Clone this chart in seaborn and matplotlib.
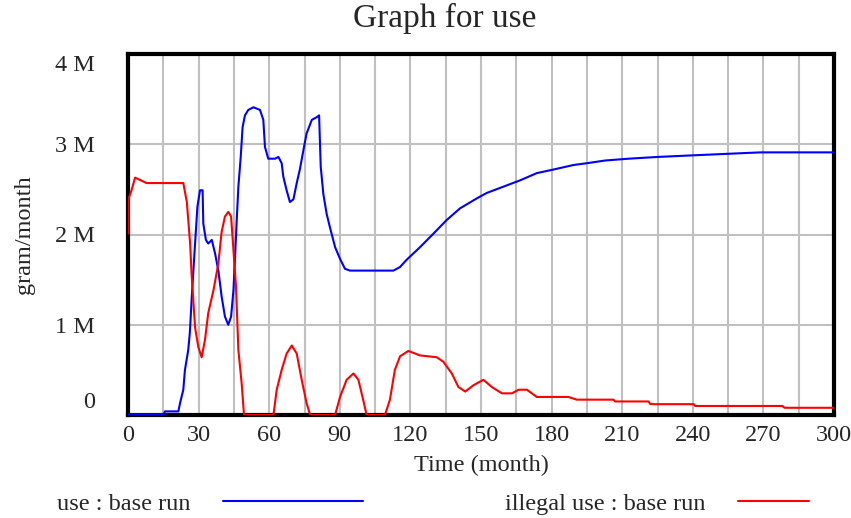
import numpy as np
import pandas as pd
import matplotlib
matplotlib.use("Agg")
import matplotlib.pyplot as plt
import matplotlib.transforms as mtransforms
from matplotlib.lines import Line2D
import seaborn as sns

# ---- data ----
use_t = [0, 15.2, 15.7, 21.4, 22.1, 23.5, 24.2, 25.6, 26.3, 27.1, 28.5, 29.5, 30.6, 31.7, 32.0, 33.1,
         34.1, 35.6, 37.0, 38.4, 39.8, 41.2, 42.6, 43.8, 44.8, 45.5, 46.2, 46.9, 47.9, 48.7,
         49.7, 51.1, 53.3, 56.1, 57.5, 58.2, 59.6, 62.5, 63.9, 65.3, 66.0, 67.4, 68.8, 70.3,
         71.7, 73.1, 74.5, 75.9, 78.1, 80.2, 81.2, 81.9, 83.0, 84.4, 85.8, 88.0, 90.1, 92.2, 94.3,
         112.8, 115.6, 118.4, 124.1, 129.8, 135.4, 141.1, 148.2, 152.4, 159.5, 166.6, 173.7,
         180.8, 189.3, 195, 202.8, 212.7, 225.5, 242.5, 268.7, 300]
use_v = [0.01, 0.01, 0.04, 0.04, 0.13, 0.28, 0.5, 0.72, 0.92, 1.31, 1.9, 2.31, 2.49, 2.49, 2.12, 1.94,
         1.9, 1.94, 1.79, 1.6, 1.31, 1.09, 1.0, 1.09, 1.38, 1.75, 2.16, 2.53, 2.86, 3.19,
         3.32, 3.38, 3.41, 3.38, 3.27, 2.97, 2.84, 2.84, 2.86, 2.79, 2.64, 2.49, 2.36, 2.39,
         2.57, 2.73, 2.93, 3.12, 3.27, 3.30, 3.32, 2.75, 2.45, 2.23, 2.08, 1.86, 1.73, 1.62, 1.6,
         1.6, 1.64, 1.72, 1.86, 2.01, 2.16, 2.29, 2.40, 2.46, 2.53, 2.60, 2.68,
         2.72, 2.77, 2.79, 2.82, 2.84, 2.86, 2.88, 2.91, 2.91]

ill_t = [0, 0.3, 1.5, 3, 7.9, 23.5, 25, 26.4, 27, 28.5, 29.9, 31.3, 32.7, 34.1, 36.3, 38.4, 39.8,
         41.2, 42.6, 43.8, 44.8, 45.9, 46.9, 48.3, 49.3, 61.8, 63.2, 65.3, 67.4, 69.6, 71.7,
         73.8, 75.9, 77.4, 88, 90.1, 92.9, 95.8, 97.9, 100.0, 101.4, 109.2, 111.3, 113.4, 115.6,
         119.1, 124.1, 131.2, 134, 137.6, 140.4, 143.3, 146.8, 151, 154.6, 158.9, 163.1, 166,
         169.5, 173.7, 187.1, 190.7, 206.3, 207, 221.2, 222, 240.4, 241, 278, 279, 300]
ill_v = [2.01, 2.4, 2.49, 2.63, 2.57, 2.57, 2.36, 1.9, 1.57, 0.97, 0.75, 0.64, 0.83, 1.13, 1.38,
         1.68, 2.03, 2.2, 2.25, 2.2, 1.83, 1.42, 0.72, 0.35, 0.0, 0.0, 0.28, 0.5, 0.68, 0.77,
         0.68, 0.39, 0.13, 0.0, 0.0, 0.2, 0.39, 0.46, 0.39, 0.16, 0.0, 0.0, 0.17, 0.5, 0.65,
         0.71, 0.66, 0.64, 0.59, 0.46, 0.31, 0.26, 0.33, 0.39, 0.31, 0.24, 0.24, 0.28,
         0.28, 0.2, 0.2, 0.17, 0.17, 0.15, 0.15, 0.12, 0.12, 0.1, 0.1, 0.08, 0.08]

y_ticks = [0, 1, 2, 3, 4]
y_labels = ["0", "1 M", "2 M", "3 M", "4 M"]
x_ticks = list(range(0, 301, 30))

df_use = pd.DataFrame({"t": use_t, "v": np.array(use_v) * 1e6})
df_ill = pd.DataFrame({"t": ill_t, "v": np.array(ill_v) * 1e6})

sns.set_style("white")
plt.rcParams["font.family"] = ["Liberation Serif", "DejaVu Serif"]

W, H = 851, 518
fig = plt.figure(figsize=(W / 100, H / 100), dpi=100)
ax = fig.add_axes([128 / W, 1 - 415 / H, (834 - 128) / W, (415 - 54) / H])

sns.lineplot(data=df_use, x="t", y="v", ax=ax, color="#0000ff", lw=1.5, zorder=3)
sns.lineplot(data=df_ill, x="t", y="v", ax=ax, color="#ff0000", lw=1.5, zorder=3)

FS = 17.5
ax.set_xlim(0, 300)
ax.set_ylim(0, 4e6)
ax.set_xticks(x_ticks)
ax.set_xticks(list(range(15, 300, 30)), minor=True)
ax.set_xticklabels([str(v) for v in x_ticks], fontsize=FS)
ax.set_yticks([v * 1e6 for v in y_ticks])
ax.set_yticklabels(y_labels, fontsize=FS)
ax.tick_params(axis="both", which="both", length=0)
ax.tick_params(axis="x", pad=7)
ax.tick_params(axis="y", pad=24)
# Vensim-style: end labels pulled inside the plot range
ylbls = ax.get_yticklabels()
ylbls[0].set_transform(ylbls[0].get_transform() + mtransforms.ScaledTranslation(0, 0.145, fig.dpi_scale_trans))
ylbls[-1].set_transform(ylbls[-1].get_transform() + mtransforms.ScaledTranslation(0, -0.09, fig.dpi_scale_trans))

ax.grid(True, which="both", axis="x", color="#c0c0c0", lw=1.5, zorder=0)
ax.grid(True, which="major", axis="y", color="#c0c0c0", lw=1.5, zorder=0)
ax.set_axisbelow(True)
for s in ax.spines.values():
    s.set_visible(True)
    s.set_color("black")
    s.set_linewidth(3)

ax.set_xlabel("Time (month)", fontsize=FS)
ax.xaxis.set_label_coords(0.5, (415 - 465) / 361)
ax.xaxis.label.set_va("center")
ax.set_ylabel("gram/month", fontsize=FS)
ax.yaxis.set_label_coords((24 - 128) / 706, (415 - 235) / 361)
ax.yaxis.label.set_va("center")

fig.suptitle("Graph for use", x=445 / W, y=1 - 27 / H, va="baseline", ha="center", fontsize=24)

# legend row at bottom
fig.text(57 / W, 1 - 510 / H, "use : base run", fontsize=FS, va="baseline", ha="left")
fig.add_artist(Line2D([223 / W, 363 / W], [1 - 501 / H] * 2, color="#0000ff", lw=1.5))
fig.text(505 / W, 1 - 510 / H, "illegal use : base run", fontsize=FS, va="baseline", ha="left")
fig.add_artist(Line2D([738 / W, 809 / W], [1 - 501 / H] * 2, color="#ff0000", lw=1.5))

fig.savefig("out.png", dpi=100)
